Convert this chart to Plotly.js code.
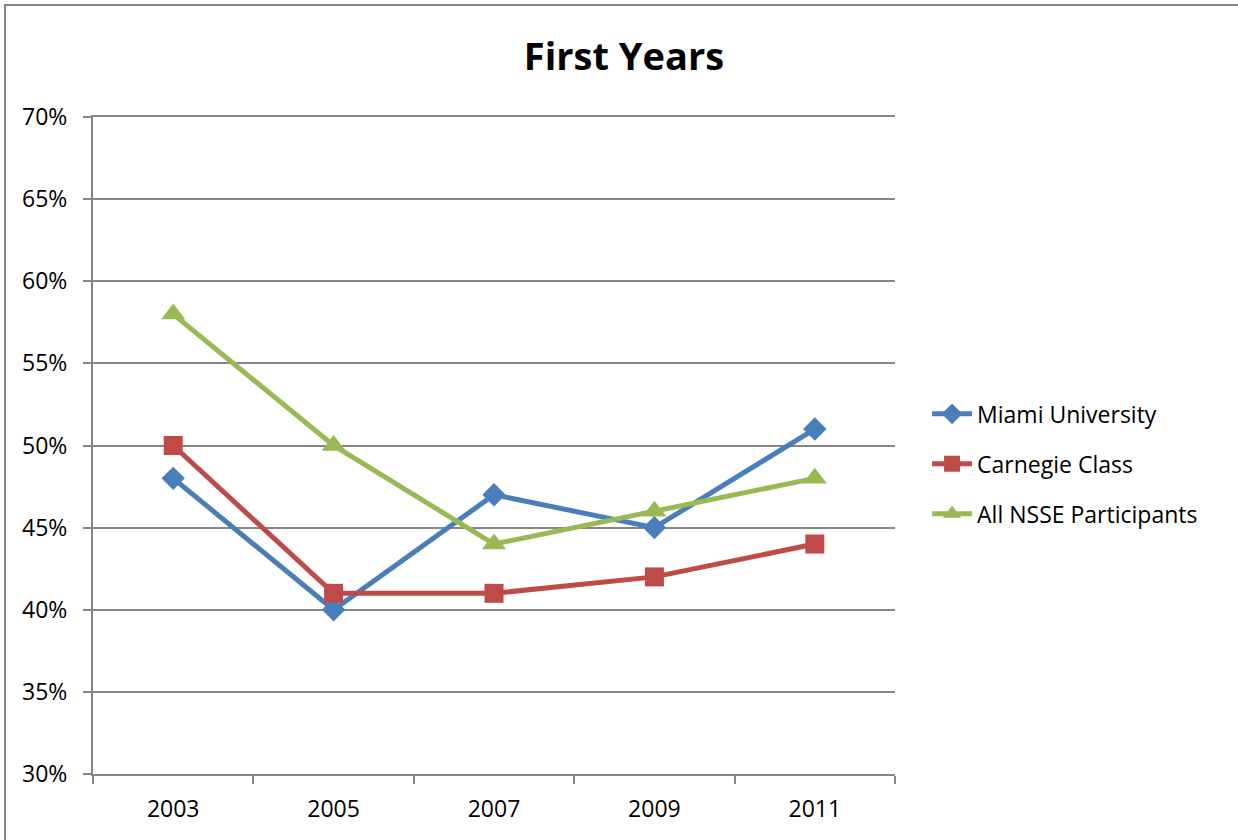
<!DOCTYPE html>
<html>
<head>
<meta charset="utf-8">
<script src="https://cdn.plot.ly/plotly-3.0.1.min.js"></script>
<style>
  html, body { margin: 0; padding: 0; background: #fff; }
  #frame { position: absolute; left: 4px; top: 4px; width: 1234px; height: 836px;
           border-top: 2px solid #868686; border-left: 2px solid #868686; }
  #chart { position: absolute; left: 0; top: 0; width: 1238px; height: 840px; }
</style>
</head>
<body>
<div id="chart"></div>
<div id="frame"></div>
<script>
const years = ["2003", "2005", "2007", "2009", "2011"];
const miami = [0.48, 0.40, 0.47, 0.45, 0.51];
const carnegie = [0.50, 0.41, 0.41, 0.42, 0.44];
const allNsse = [0.58, 0.50, 0.44, 0.46, 0.48];
const seriesNames = ["Miami University", "Carnegie Class", "All NSSE Participants"];
const yTickVals = [0.30, 0.35, 0.40, 0.45, 0.50, 0.55, 0.60, 0.65, 0.70];
const yTickText = ["30%", "35%", "40%", "45%", "50%", "55%", "60%", "65%", "70%"];

const font = "Open Sans, Noto Sans, sans-serif";
const fs = 23;

const traces = [
  { x: years, y: miami, name: seriesNames[0], legendgroup: "g1", type: "scatter", mode: "lines+markers",
    line: { color: "#4a7ebb", width: 5 },
    marker: { symbol: "diamond", size: 18, color: "#4a7ebb" } },
  { x: years, y: carnegie, name: seriesNames[1], legendgroup: "g2", type: "scatter", mode: "lines+markers",
    line: { color: "#be4b48", width: 5 },
    marker: { symbol: "square", size: 19, color: "#be4b48" } },
  { x: years, y: allNsse, name: seriesNames[2], legendgroup: "g3", type: "scatter", mode: "lines+markers",
    line: { color: "#98b954", width: 5 },
    marker: { symbol: "triangle-up", size: 21, color: "#98b954" } }
];

const layout = {
  width: 1238, height: 840,
  margin: { l: 93, r: 343, t: 117, b: 66 },
  paper_bgcolor: "#ffffff", plot_bgcolor: "#ffffff",
  font: { family: font, size: fs, color: "#000" },
  title: { text: "<b>First Years</b>", font: { family: font, size: 38, color: "#000" },
           x: 0.504, xanchor: "center", y: 0.932, yanchor: "middle" },
  xaxis: {
    type: "category", tickson: "boundaries", ticks: "outside", ticklen: 8,
    tickcolor: "#868686", tickwidth: 2,
    showline: true, linecolor: "#868686", linewidth: 2, mirror: true,
    showgrid: false, zeroline: false, range: [-0.5, 4.5],
    ticklabelstandoff: 13,
    tickfont: { family: font, size: fs, color: "#000" }
  },
  yaxis: {
    range: [0.30, 0.70], tickvals: yTickVals, ticktext: yTickText,
    ticks: "outside", ticklen: 8, tickcolor: "#868686", tickwidth: 2,
    showline: true, linecolor: "#868686", linewidth: 2,
    showgrid: true, gridcolor: "#868686", gridwidth: 2, zeroline: false,
    ticklabelstandoff: 11,
    tickfont: { family: font, size: fs, color: "#000" }
  },
  legend: {
    x: 1.04, xanchor: "left", y: 0.472, yanchor: "middle",
    font: { family: font, size: fs, color: "#000" },
    tracegroupgap: 17, itemwidth: 40
  },
  showlegend: true
};

Plotly.newPlot("chart", traces, layout, { displayModeBar: false, staticPlot: true });
</script>
</body>
</html>
